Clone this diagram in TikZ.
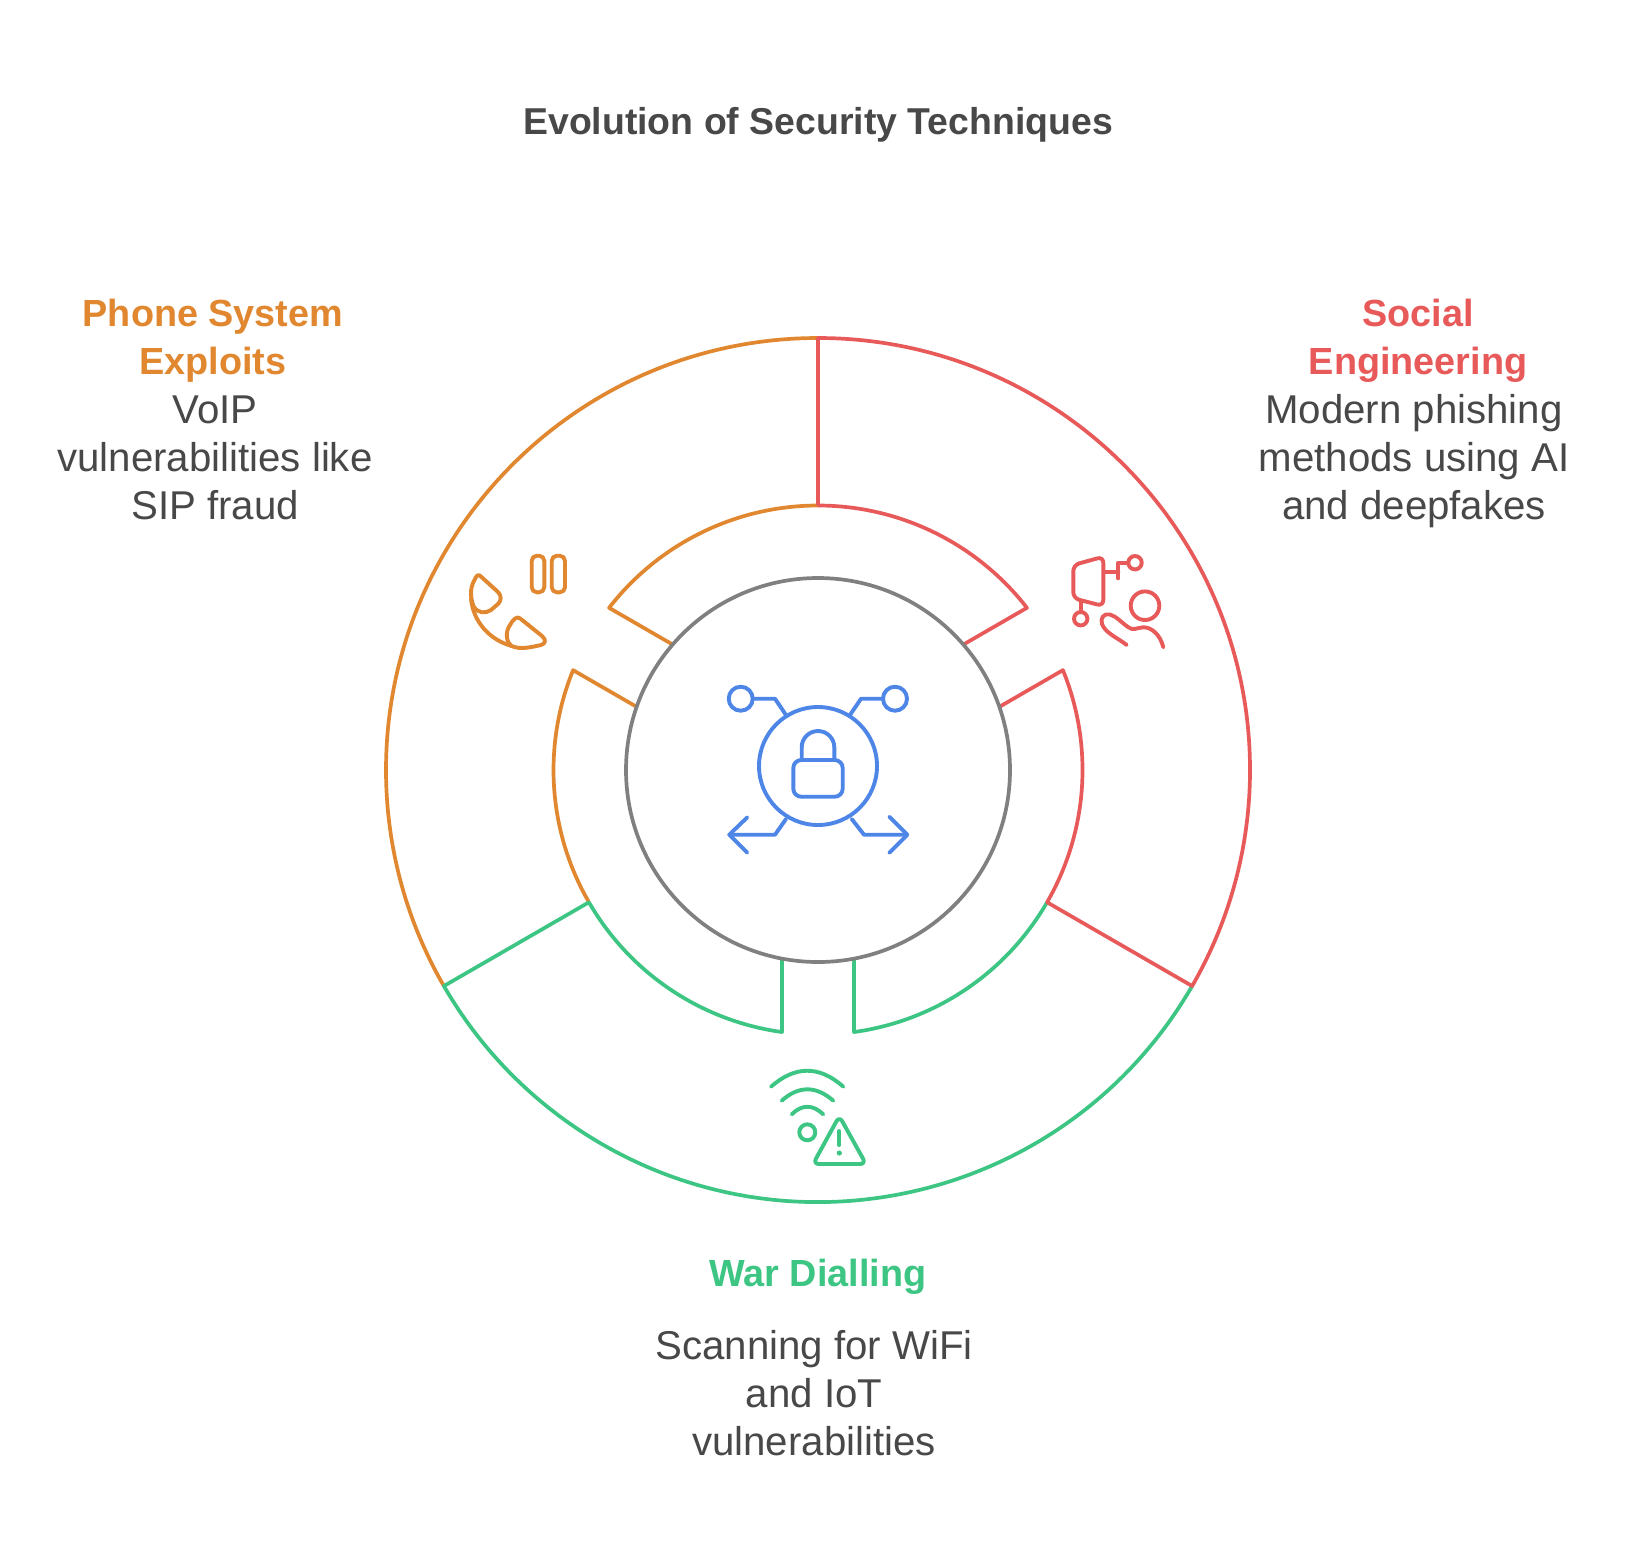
\documentclass[tikz,border=0pt]{standalone}
\usepackage{fontspec}
\setmainfont{Liberation Sans}
\definecolor{cOrange}{HTML}{E0872F}
\definecolor{cRed}{HTML}{E85A5A}
\definecolor{cGreen}{HTML}{3CC583}
\definecolor{cBlue}{HTML}{4E86E8}
\definecolor{cGrey}{HTML}{808080}
\definecolor{cText}{HTML}{484848}
\tikzset{
  ring/.style={line width=1.85pt,line join=round},
  icon/.style={line width=1.95pt,line cap=round,line join=round},
  heading/.style={font=\fontsize{18.9}{24}\selectfont\bfseries,align=center,inner sep=0pt},
  titletext/.style={font=\fontsize{18.7}{24}\selectfont\bfseries,text=cText,inner sep=0pt},
  bodytext/.style={font=\fontsize{20.1}{24}\selectfont,text=cText,align=center,inner sep=0pt}
}
\begin{document}
\begin{tikzpicture}[x=.5pt,y=.5pt,yscale=-1]
\useasboundingbox (0,0) rectangle (1636,1564);
\fill[white] (0,0) rectangle (1636,1564);
% rings
\begin{scope}[shift={(818,770)}]
\draw[ring,cOrange] (-90:432) arc[start angle=-90,end angle=-210,radius=216pt]
  (150:264.5) arc[start angle=150,end angle=202.18,radius=132.25pt] -- (199.2:192)
  (220.8:192) -- (217.82:264.5) arc[start angle=217.82,end angle=270,radius=132.25pt];
\draw[ring,cGreen] (30:432) arc[start angle=30,end angle=150,radius=216pt] -- (150:264.5)
  arc[start angle=150,end angle=97.82,radius=132.25pt] -- (100.8:192)
  (79.2:192) -- (82.18:264.5) arc[start angle=82.18,end angle=30,radius=132.25pt];
\draw[ring,cRed] (-90:264.5) -- (-90:432) arc[start angle=-90,end angle=30,radius=216pt] -- (30:264.5)
  arc[start angle=30,end angle=-22.18,radius=132.25pt] -- (-19.2:192)
  (-40.8:192) -- (-37.82:264.5) arc[start angle=-37.82,end angle=-90,radius=132.25pt];
\draw[ring,cGrey] (0,0) circle[radius=96pt];
\end{scope}
% central icon
\begin{scope}[icon,cBlue]
\draw (818,766) circle[radius=29.5pt];
\draw (740.7,698.7) circle[radius=6pt];
\draw (895,698.7) circle[radius=6pt];
\draw (752.7,698.7) -- (775,698.7) -- (786,715);
\draw (882.7,698.7) -- (861,698.7) -- (850,715);
\draw (786,819) -- (775,834.7) -- (729.3,834.7);
\draw (747.3,817.3) -- (729.3,834.7) -- (747.3,852.7);
\draw (851.7,819) -- (864,834.7) -- (907.3,834.7);
\draw (889.3,816.7) -- (907.3,834.7) -- (889.3,852.7);
\draw[rounded corners=4pt] (793.3,760) rectangle (842.7,796.7);
\draw (801.7,759) -- (801.7,747.3) arc[start angle=180,end angle=360,radius=8.15pt] -- (834.3,759);
\end{scope}
% social engineering icon
\begin{scope}[icon,cRed]
\draw[rounded corners=3pt] (1073.3,565) -- (1103.3,556.7) -- (1103.3,606) -- (1073.3,598.3) -- cycle;
\draw (1105,571.7) -- (1118.3,571.7);
\draw (1118.3,578.3) -- (1118.3,562.7) -- (1128,562.7);
\draw (1135,562.7) circle[radius=3.35pt];
\draw (1080.7,601.7) -- (1080.7,612);
\draw (1080.7,618.7) circle[radius=3.35pt];
\draw (1145,605.7) circle[radius=7.15pt];
\draw (1163.3,647.3) .. controls (1160,634) and (1151,627) .. (1143,627.3)
  .. controls (1136,628) and (1133,631) .. (1128,627)
  .. controls (1122,623) and (1116,616) .. (1110,614.5)
  .. controls (1104,613) and (1100,618) .. (1102,624)
  .. controls (1105,633) and (1118,638) .. (1126.7,645);
\end{scope}
% phone icon
\begin{scope}[icon,cOrange]
\draw[rounded corners=2.6pt] (531.7,555.7) rectangle (544.3,592.3);
\draw[rounded corners=2.6pt] (551.7,555.7) rectangle (565,592.3);
\draw (480,575.7) -- (498,592) .. controls (502,596) and (501,601) .. (498,604)
  -- (491,610) .. controls (485,614) and (478,613) .. (474,607)
  .. controls (470,598) and (470,588) .. (474,581)
  .. controls (476,576) and (478,574) .. (480,575.7) -- cycle;
\draw (520,618.3) -- (542,636) .. controls (547,640) and (545,644) .. (541,645)
  .. controls (532,647) and (520,650) .. (511.7,646)
  .. controls (506,642) and (505,632) .. (510,625)
  .. controls (513,619) and (517,616) .. (520,618.3) -- cycle;
\draw (471,598.3) .. controls (473,622) and (490,640) .. (511.7,646);
\end{scope}
% war dialling icon
\begin{scope}[icon,cGreen]
\draw (771,1086.7) .. controls (795.2,1065.4) and (819.4,1065.4) .. (843.3,1086.7);
\draw (781.7,1100.7) .. controls (798.8,1085.5) and (815.8,1085.5) .. (833.3,1100.7);
\draw (791.7,1114.3) .. controls (802.1,1104.2) and (812.5,1104.2) .. (823.3,1114.3);
\draw (807.3,1132.3) circle[radius=4pt];
\draw[rounded corners=3pt] (839.3,1116) -- (813,1164) -- (866,1164) -- cycle;
\draw (839.3,1131) -- (839.3,1145);
\fill (839.3,1153) circle[radius=1.3pt];
\end{scope}
% texts
\node[titletext] (title) at (818,125) {Evolution of Security Techniques};
\node[heading,text=cOrange] (phoneh) at (213,341) {Phone System\\Exploits};
\node[bodytext] (phoneb) at (215,458) {VoIP\\vulnerabilities like\\SIP fraud};
\node[heading,text=cRed] (socialh) at (1418,341) {Social\\Engineering};
\node[bodytext] (socialb) at (1414,461) {Modern phishing\\methods using AI\\and deepfakes};
\node[heading,text=cGreen] (warh) at (818,1277) {War Dialling};
\node[bodytext] (warb) at (814,1393) {Scanning for WiFi\\and IoT\\vulnerabilities};
\end{tikzpicture}
\end{document}
